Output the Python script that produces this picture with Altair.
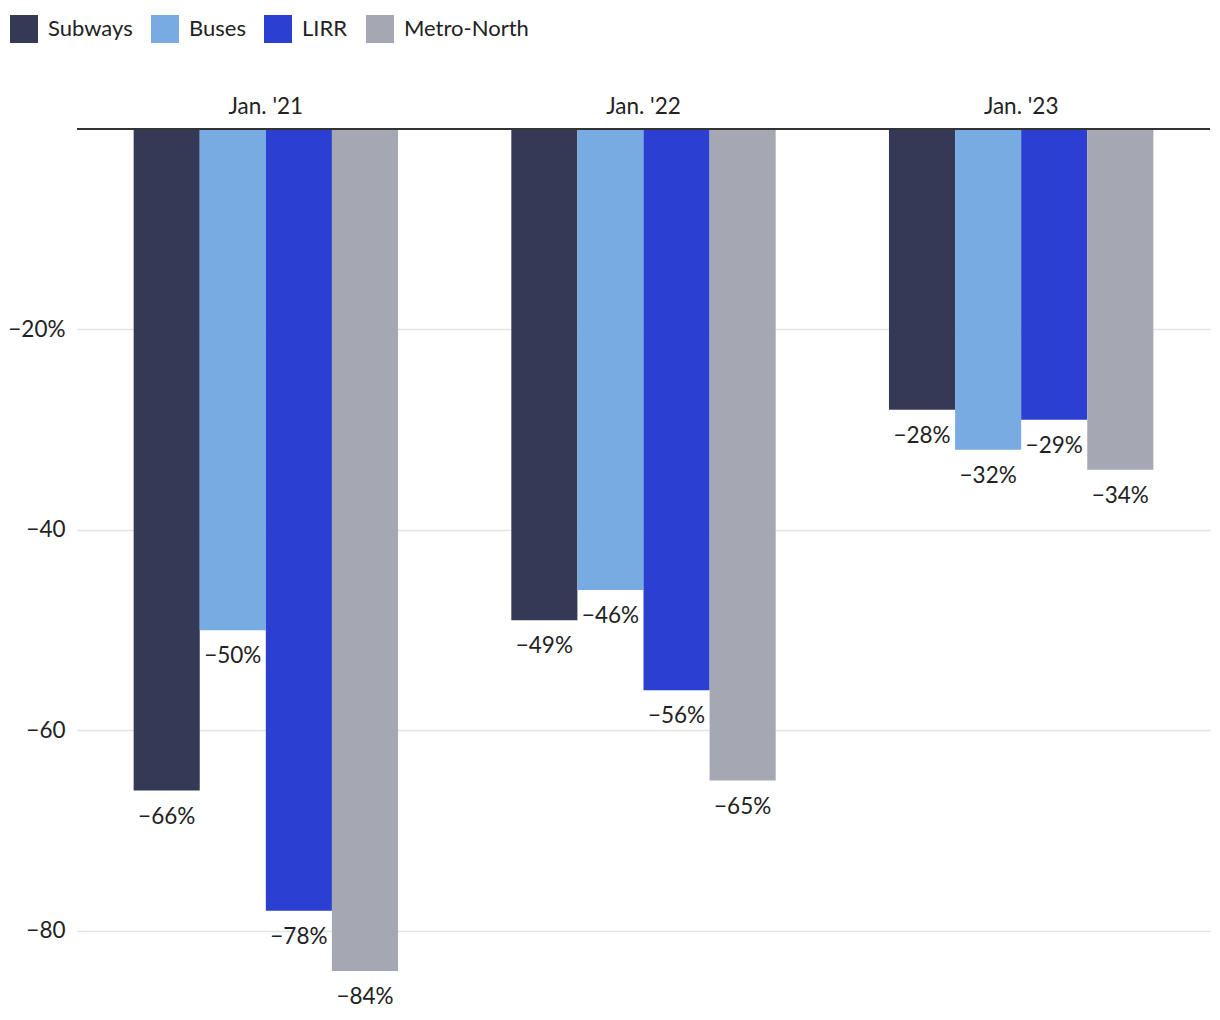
import altair as alt
import pandas as pd

periods = ["Jan. '21", "Jan. '22", "Jan. '23"]
modes = ["Subways", "Buses", "LIRR", "Metro-North"]
colors = ["#343a55", "#79abe3", "#2b40d0", "#a5a8b3"]
values = {
    "Jan. '21": [-66, -50, -78, -84],
    "Jan. '22": [-49, -46, -56, -65],
    "Jan. '23": [-28, -32, -29, -34],
}
y_ticks = [-20, -40, -60, -80]

rows = []
for p in periods:
    for m, v in zip(modes, values[p]):
        rows.append({"period": p, "mode": m, "value": v})
df = pd.DataFrame(rows)

FONT = "Source Sans Pro, Lato, sans-serif"
FS = 22.5

x_axis = alt.Axis(orient="top", title=None, ticks=False, domain=False,
                  labelAngle=0, labelFontSize=FS, labelColor="#222222",
                  labelPadding=11, labelFont=FONT)
x_enc = alt.X("period:N", sort=periods, axis=x_axis,
              scale=alt.Scale(paddingInner=0.3, paddingOuter=0.15))
xo_enc = alt.XOffset("mode:N", sort=modes, scale=alt.Scale(paddingInner=0, paddingOuter=0))
y_scale = alt.Scale(domain=[-86, 0], nice=False)

base = alt.Chart(df)

bars = base.mark_bar().encode(
    x=x_enc,
    xOffset=xo_enc,
    y=alt.Y("value:Q", scale=y_scale,
            axis=alt.Axis(values=y_ticks, format="d", title=None, ticks=False,
                          domain=False, labelFontSize=FS, labelColor="#222222",
                          labelPadding=12, gridColor="#e4e4e4", gridWidth=1.5,
                          labelFont=FONT,
                          labelExpr="datum.value == -20 ? datum.label + '%' : datum.label")),
    color=alt.Color("mode:N", sort=modes,
                    scale=alt.Scale(domain=modes, range=colors),
                    legend=alt.Legend(orient="none", legendX=-67, legendY=-114,
                                      direction="horizontal", title=None,
                                      symbolType="square", symbolSize=784,
                                      symbolStrokeWidth=0, symbolOpacity=1,
                                      labelFontSize=22, labelColor="#222222",
                                      labelFont=FONT, labelOffset=10,
                                      columnPadding=18)),
)

labels = base.mark_text(baseline="middle", align="center", dy=26, fontSize=FS,
                        color="#222222", font=FONT).encode(
    x=x_enc,
    xOffset=xo_enc,
    y=alt.Y("value:Q", scale=y_scale),
    text=alt.Text("label:N"),
).transform_calculate(label="format(datum.value, 'd') + '%'")

zero = base.mark_rule(color="#333333", strokeWidth=2).encode(y=alt.datum(0))

chart = alt.layer(bars, labels, zero).properties(
    width=1133, height=862,
    padding={"left": 69, "top": 121, "right": 2, "bottom": 20},
    autosize=alt.AutoSizeParams(type="none"),
).configure(font=FONT).configure_view(strokeWidth=0, stroke="transparent")

chart.save("out.html", embed_options={"renderer": "svg", "actions": False})
